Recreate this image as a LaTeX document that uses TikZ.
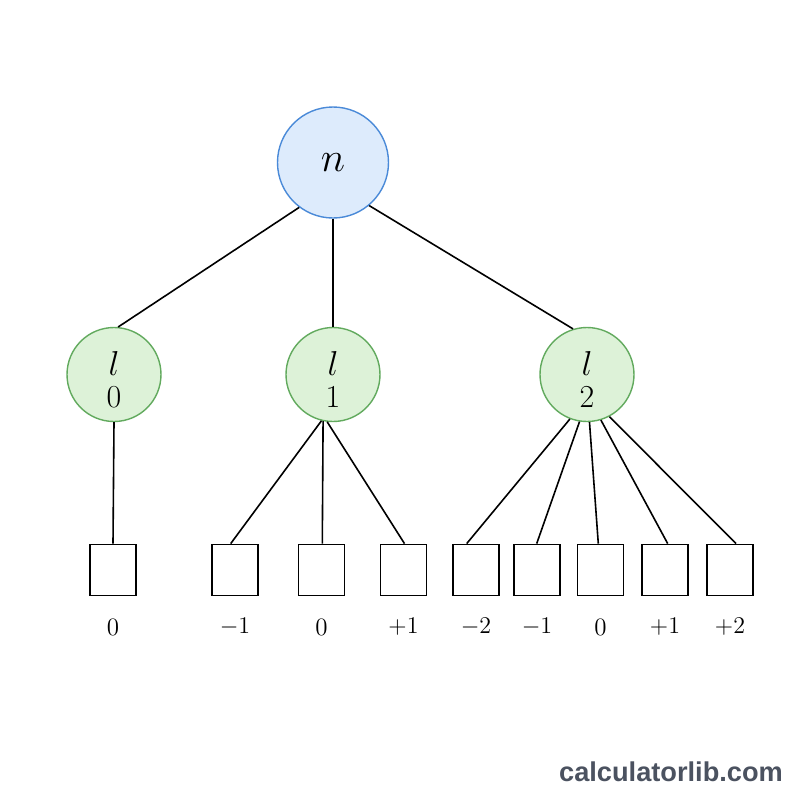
\documentclass[tikz,border=0pt]{standalone}
\usepackage{fontspec}
\newfontfamily\wmfont{Liberation Sans}
\usetikzlibrary{calc}
\definecolor{rootfill}{HTML}{DDEBFC}
\definecolor{rootline}{HTML}{4A8AD8}
\definecolor{lfill}{HTML}{DDF2D8}
\definecolor{lline}{HTML}{62AA5E}
\definecolor{wmcolor}{HTML}{4B5260}
\begin{document}
\begin{tikzpicture}[x=0.5pt,y=-0.5pt,
  rootnode/.style={circle, draw=rootline, fill=rootfill, line width=0.7pt, minimum size=55.5pt, inner sep=0pt, font=\fontsize{21}{25}\selectfont},
  lnode/.style={circle, draw=lline, fill=lfill, line width=0.7pt, minimum size=47pt, inner sep=0pt, align=center, font=\fontsize{16}{16}\selectfont},
  cell/.style={draw, line width=0.9pt, minimum width=23pt, minimum height=25.5pt, inner sep=0pt},
  lab/.style={font=\fontsize{12.5}{14}\selectfont, inner sep=0pt},
  link/.style={line width=0.8pt}]
\path[use as bounding box, fill=white] (0,0) rectangle (800,800);

\node[rootnode] (r) at (333,162.5) {$n$};
\node[lnode] (l0) at (114,374.5) {\raisebox{0pt}[17pt]{$l$}\\0};
\node[lnode] (l1) at (333,374.5) {\raisebox{0pt}[17pt]{$l$}\\1};
\node[lnode] (l2) at (587,374.5) {\raisebox{0pt}[17pt]{$l$}\\2};

\node[cell] (b0) at (113,570) {};
\node[cell] (b1) at (235,570) {};
\node[cell] (b2) at (321.5,570) {};
\node[cell] (b3) at (403.5,570) {};
\node[cell] (b4) at (476,570) {};
\node[cell] (b5) at (537,570) {};
\node[cell] (b6) at (600.5,570) {};
\node[cell] (b7) at (665,570) {};
\node[cell] (b8) at (730,570) {};

\node[lab] (t0) at (113,627) {0};
\node[lab] (t1) at (235,627) {$-1$};
\node[lab] (t2) at (321.5,627) {0};
\node[lab] (t3) at (403.5,627) {$+1$};
\node[lab] (t4) at (476,627) {$-2$};
\node[lab] (t5) at (537,627) {$-1$};
\node[lab] (t6) at (600.5,627) {0};
\node[lab] (t7) at (665,627) {$+1$};
\node[lab] (t8) at (730,627) {$+2$};

\draw[link] (r.233) -- (l0.85);
\draw[link] (r.south) -- (l1.north);
\draw[link] (r.310) -- (l2.107);

\draw[link] (l0.south) -- (b0.north);
\draw[link] (l1.256) -- ($(b1.north)+(-4.3,0)$);
\draw[link] (l1.258) -- ($(b2.north)+(0.8,0)$);
\draw[link] (l1.263) -- ($(b3.north)+(1,0)$);
\draw[link] (l2.249) -- ($(b4.north)+(-9.3,0)$);
\draw[link] (l2.261) -- ($(b5.north)+(-0.3,0)$);
\draw[link] (l2.273.5) -- ($(b6.north)+(-2.2,0)$);
\draw[link] (l2.287) -- ($(b7.north)+(2.7,0)$);
\draw[link] (l2.298.5) -- ($(b8.north)+(6,0)$);

\node[font=\wmfont\bfseries\fontsize{13.6}{15}\selectfont, text=wmcolor, inner sep=0pt] (wm) at (671,772) {calculatorlib.com};
\end{tikzpicture}
\end{document}
